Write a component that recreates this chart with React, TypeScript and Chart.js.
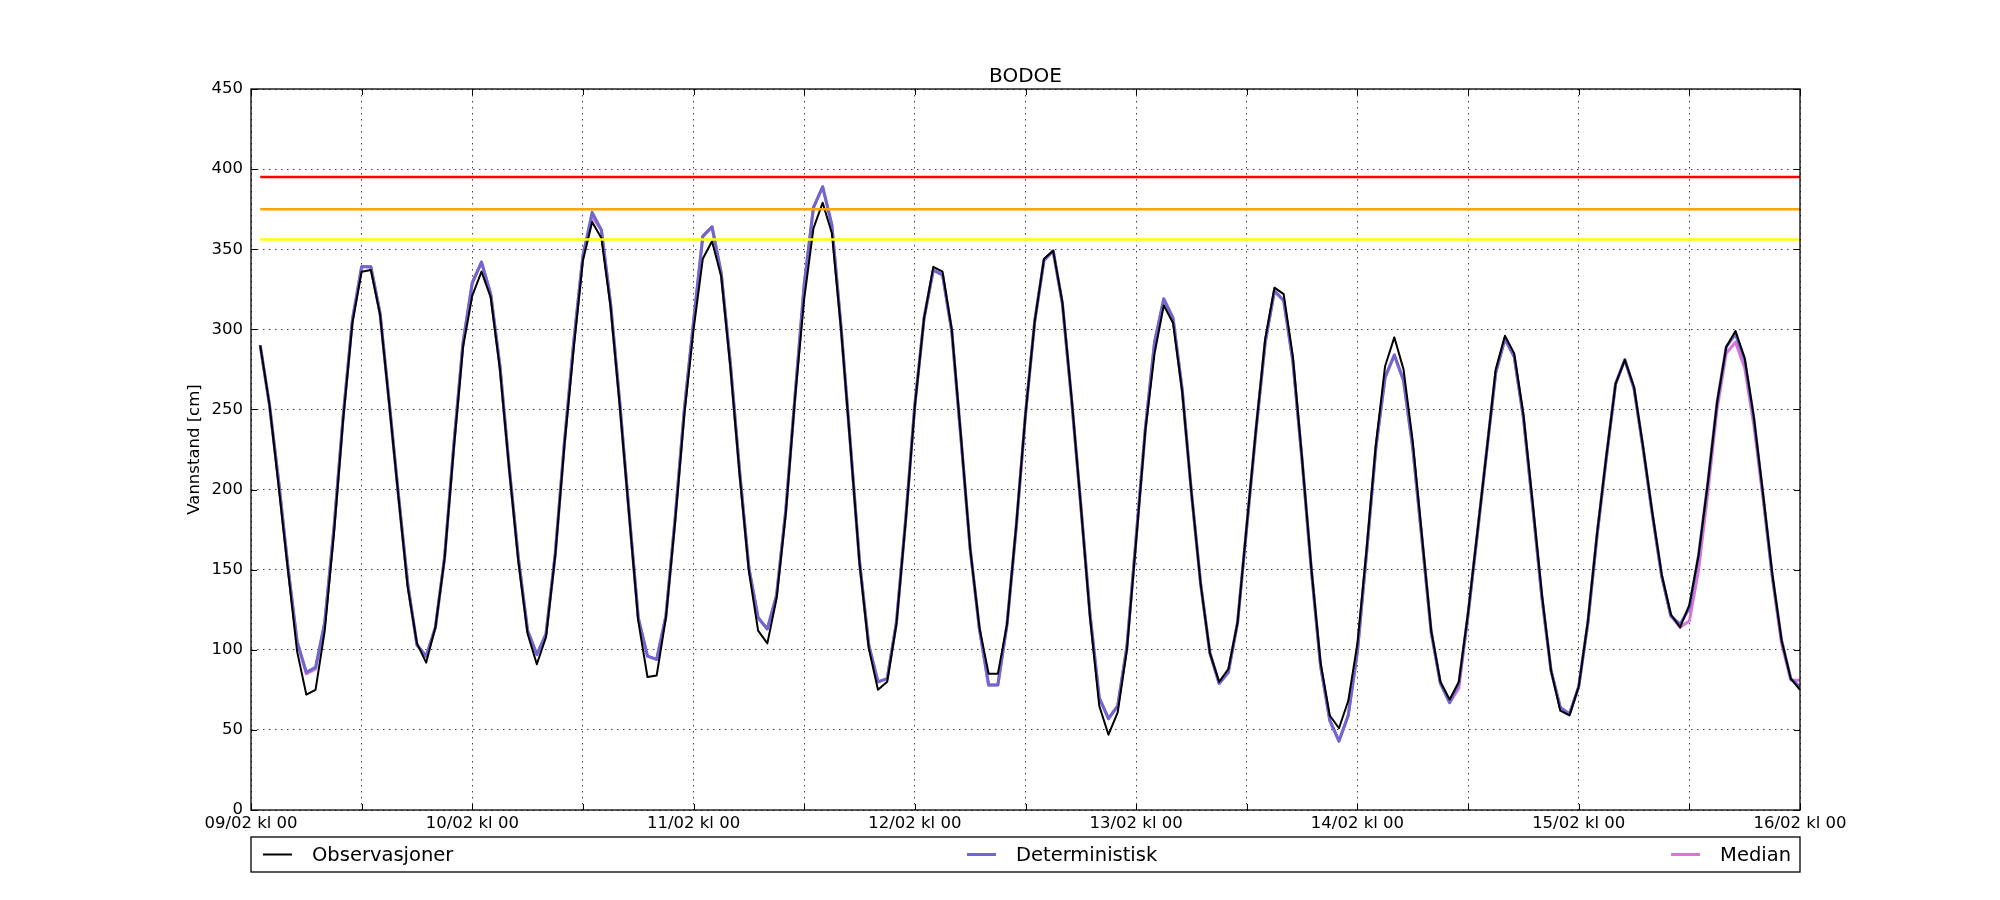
import React, { useEffect, useRef } from "react";
import Chart from "chart.js/auto";

const TITLE = "BODOE";
const Y_LABEL = "Vannstand [cm]";
const DAY_LABELS = [
  "09/02 kl 00",
  "10/02 kl 00",
  "11/02 kl 00",
  "12/02 kl 00",
  "13/02 kl 00",
  "14/02 kl 00",
  "15/02 kl 00",
  "16/02 kl 00",
];
const FIRST_HOUR = 1; // first value at 09/02 kl 01, one value per hour

// water level [cm], hourly
const observasjoner = [
  290, 253, 202, 150, 99, 72, 75, 112, 173, 244,
  304, 336, 337, 309, 253, 195, 139, 104, 92, 114,
  157, 226, 289, 321, 336, 320, 275, 213, 155, 110,
  91, 108, 159, 228, 288, 343, 367, 357, 314, 252,
  185, 118, 83, 84, 120, 180, 247, 300, 344, 355,
  333, 276, 209, 149, 112, 104, 132, 185, 257, 319,
  363, 379, 360, 300, 228, 154, 101, 75, 80, 116,
  180, 252, 307, 339, 336, 300, 233, 163, 114, 85,
  85, 116, 178, 247, 305, 344, 349, 317, 257, 190,
  120, 65, 47, 61, 100, 168, 237, 285, 315, 304,
  261, 198, 141, 98, 80, 88, 117, 178, 238, 294,
  326, 322, 283, 219, 151, 92, 59, 51, 68, 104,
  163, 228, 277, 295, 275, 230, 171, 112, 80, 69,
  80, 123, 173, 223, 275, 296, 285, 247, 192, 135,
  87, 62, 59, 77, 118, 173, 221, 266, 281, 264,
  226, 185, 147, 122, 114, 128, 159, 204, 254, 289,
  299, 282, 245, 197, 147, 106, 82, 75,
];

const deterministisk = [
  290, 253, 205, 152, 105, 86, 89, 117, 176, 246,
  306, 339, 339, 310, 254, 196, 141, 103, 96, 114,
  158, 228, 292, 329, 342, 322, 277, 214, 157, 112,
  97, 110, 160, 230, 292, 346, 373, 362, 316, 254,
  186, 120, 96, 94, 121, 182, 250, 305, 358, 364,
  335, 278, 211, 151, 120, 113, 134, 187, 258, 328,
  376, 389, 365, 301, 229, 155, 103, 80, 82, 117,
  181, 253, 307, 337, 334, 299, 232, 163, 113, 78,
  78, 116, 177, 247, 305, 343, 349, 316, 256, 190,
  122, 70, 57, 65, 102, 170, 238, 292, 319, 307,
  262, 198, 141, 98, 79, 86, 117, 177, 237, 292,
  324, 318, 280, 218, 150, 90, 56, 43, 59, 99,
  161, 226, 270, 284, 268, 226, 169, 111, 79, 67,
  79, 122, 172, 223, 273, 294, 283, 245, 190, 133,
  87, 64, 60, 77, 117, 172, 220, 266, 281, 263,
  225, 184, 146, 121, 116, 126, 159, 204, 254, 289,
  297, 281, 244, 196, 146, 106, 82, 77,
];

const median = [
  290, 253, 205, 152, 105, 85, 88, 117, 176, 246,
  306, 339, 339, 310, 254, 196, 141, 103, 96, 114,
  158, 228, 292, 329, 342, 322, 277, 214, 157, 112,
  97, 110, 160, 230, 292, 346, 370, 362, 316, 254,
  186, 120, 96, 94, 121, 182, 250, 305, 358, 364,
  335, 278, 211, 151, 120, 113, 134, 187, 258, 328,
  376, 389, 365, 301, 229, 155, 103, 80, 82, 117,
  181, 253, 307, 337, 334, 299, 232, 163, 113, 78,
  78, 116, 177, 247, 305, 343, 349, 316, 256, 190,
  122, 70, 57, 65, 102, 170, 238, 292, 319, 307,
  262, 198, 141, 98, 79, 86, 117, 177, 237, 292,
  324, 318, 280, 218, 150, 90, 56, 43, 59, 99,
  161, 226, 270, 284, 268, 226, 169, 111, 79, 67,
  76, 122, 172, 223, 273, 294, 283, 245, 190, 133,
  87, 64, 60, 77, 117, 172, 220, 266, 281, 263,
  225, 184, 146, 121, 114, 118, 150, 198, 250, 285,
  292, 276, 240, 194, 145, 104, 81, 81,
];

// warning levels [cm]: red, orange, yellow
const varselNivaa = [395, 375, 356];

const FONT = "'DejaVu Sans', 'Liberation Sans', sans-serif";

const toPoints = (values: number[]) =>
  values.map((v, i) => ({ x: FIRST_HOUR + i, y: v }));

const levelLine = (level: number) => [
  { x: FIRST_HOUR, y: level },
  { x: FIRST_HOUR + observasjoner.length - 1, y: level },
];

// matplotlib style frame with inward ticks
const framePlugin = {
  id: "frame",
  afterDraw(chart: any) {
    const { ctx, chartArea, scales } = chart;
    const { left, right, top, bottom } = chartArea;
    ctx.save();
    ctx.strokeStyle = "#000";
    ctx.lineWidth = 1;
    ctx.setLineDash([]);
    const tl = 6;
    ctx.beginPath();
    scales.x.ticks.forEach((t: any) => {
      const px = Math.round(scales.x.getPixelForValue(t.value)) + 0.5;
      ctx.moveTo(px, bottom);
      ctx.lineTo(px, bottom - tl);
      ctx.moveTo(px, top);
      ctx.lineTo(px, top + tl);
    });
    scales.y.ticks.forEach((t: any) => {
      const py = Math.round(scales.y.getPixelForValue(t.value)) + 0.5;
      ctx.moveTo(left, py);
      ctx.lineTo(left + tl, py);
      ctx.moveTo(right, py);
      ctx.lineTo(right - tl, py);
    });
    ctx.stroke();
    ctx.lineWidth = 1.3;
    ctx.strokeRect(left, top, right - left, bottom - top);
    ctx.restore();
  },
};

// legend in an expanded box under the x axis
const legendBoxPlugin = {
  id: "legendBox",
  afterDraw(chart: any) {
    const { ctx, chartArea } = chart;
    const left = chartArea.left;
    const right = chartArea.right;
    const top = chartArea.bottom + 27;
    const bottom = chartArea.bottom + 62;
    const items = chart.data.datasets.filter((d: any) => d.label);
    ctx.save();
    ctx.fillStyle = "#fff";
    ctx.fillRect(left, top, right - left, bottom - top);
    ctx.strokeStyle = "#000";
    ctx.lineWidth = 1.3;
    ctx.setLineDash([]);
    ctx.strokeRect(left, top, right - left, bottom - top);
    ctx.font = `19.5px ${FONT}`;
    ctx.textBaseline = "middle";
    const cy = (top + bottom) / 2;
    const lineLen = 29;
    const gap = 20;
    const first = left + 12;
    const lastW =
      lineLen + gap + ctx.measureText(items[items.length - 1].label).width;
    const last = right - 9 - lastW;
    items.forEach((d: any, i: number) => {
      const x0 = first + ((last - first) * i) / (items.length - 1);
      ctx.strokeStyle = d.borderColor;
      ctx.lineWidth = d.borderWidth;
      ctx.beginPath();
      ctx.moveTo(x0, cy);
      ctx.lineTo(x0 + lineLen, cy);
      ctx.stroke();
      ctx.fillStyle = "#000";
      ctx.fillText(d.label, x0 + lineLen + gap, cy + 1);
    });
    ctx.restore();
  },
};

const App: React.FC = () => {
  const canvasRef = useRef<HTMLCanvasElement>(null);
  const chartInstance = useRef<Chart | null>(null);

  useEffect(() => {
    if (!canvasRef.current) return;
    const ctx = canvasRef.current.getContext("2d");
    if (!ctx) return;

    if (chartInstance.current) {
      chartInstance.current.destroy();
    }

    const levelColors = ["#ff0000", "#ffa500", "#ffff00"];

    chartInstance.current = new Chart(ctx, {
      type: "line",
      data: {
        datasets: [
          ...varselNivaa.map((lvl, i) => ({
            label: "",
            data: levelLine(lvl),
            borderColor: levelColors[i],
            borderWidth: 2.5,
            pointRadius: 0,
          })),
          {
            label: "Observasjoner",
            data: toPoints(observasjoner),
            borderColor: "#000000",
            borderWidth: 2,
            pointRadius: 0,
          },
          {
            label: "Deterministisk",
            data: toPoints(deterministisk),
            borderColor: "rgb(108,104,208)",
            borderWidth: 3,
            pointRadius: 0,
          },
          {
            label: "Median",
            data: toPoints(median),
            borderColor: "rgb(216,118,214)",
            borderWidth: 3,
            pointRadius: 0,
          },
        ],
      },
      options: {
        responsive: false,
        animation: false,
        devicePixelRatio: 1,
        layout: { padding: { left: 0, right: 200, top: 0, bottom: 0 } },
        elements: {
          line: { tension: 0, borderJoinStyle: "round", fill: false },
        },
        scales: {
          x: {
            type: "linear",
            min: 0,
            max: 168,
            afterFit: (s: any) => {
              s.height = 90;
            },
            ticks: {
              stepSize: 12,
              autoSkip: false,
              maxRotation: 0,
              padding: 4,
              color: "#000",
              font: { family: FONT, size: 16.5 },
              callback: (v: any) =>
                Number(v) % 24 === 0 ? DAY_LABELS[Number(v) / 24] : "",
            },
            grid: {
              color: "rgba(0,0,0,0.75)",
              lineWidth: 1,
              drawTicks: false,
            },
            border: { display: false, dash: [1.5, 4.5] },
          },
          y: {
            min: 0,
            max: 450,
            afterFit: (s: any) => {
              s.width = 251;
            },
            ticks: {
              stepSize: 50,
              padding: 8,
              color: "#000",
              font: { family: FONT, size: 16.5 },
            },
            grid: {
              color: "rgba(0,0,0,0.75)",
              lineWidth: 1,
              drawTicks: false,
            },
            border: { display: false, dash: [1.5, 4.5] },
            title: {
              display: true,
              text: Y_LABEL,
              color: "#000",
              font: { family: FONT, size: 16.5 },
              padding: { top: 185, bottom: 0 },
            },
          },
        },
        plugins: {
          legend: { display: false },
          tooltip: { enabled: false },
          title: {
            display: true,
            fullSize: false,
            text: TITLE,
            color: "#000",
            font: { family: FONT, size: 20, weight: "normal" },
            padding: { top: 65, bottom: 0 },
          },
        },
      },
      plugins: [framePlugin, legendBoxPlugin],
    });

    return () => {
      if (chartInstance.current) {
        chartInstance.current.destroy();
      }
    };
  }, []);

  return (
    <div
      style={{
        position: "absolute",
        left: 0,
        top: 0,
        width: 2000,
        height: 900,
        background: "#fff",
      }}
    >
      <canvas
        ref={canvasRef}
        width={2000}
        height={900}
        style={{ display: "block", width: 2000, height: 900 }}
      ></canvas>
    </div>
  );
};

export default App;
